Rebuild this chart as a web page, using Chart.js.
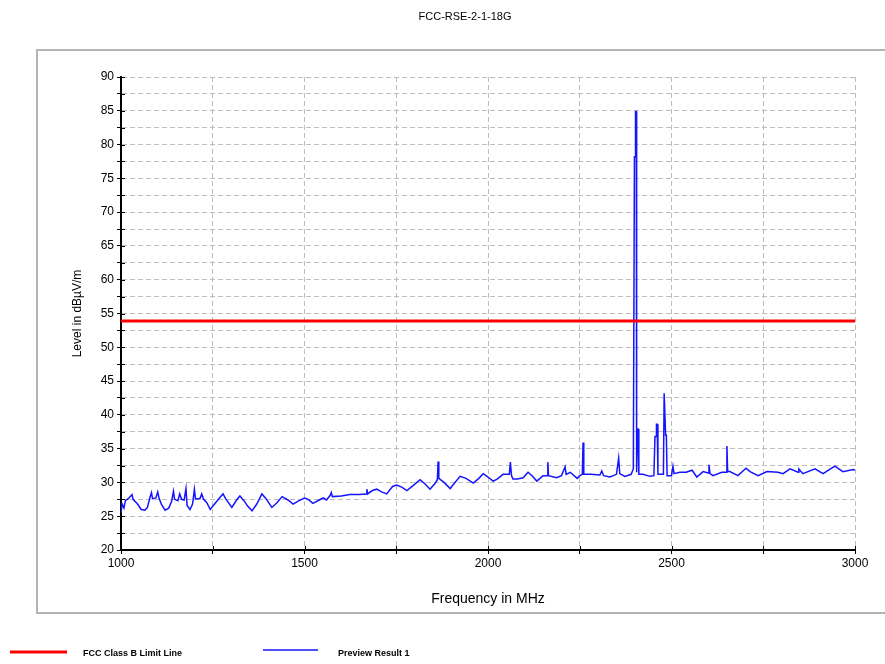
<!DOCTYPE html>
<html>
<head>
<meta charset="utf-8">
<script src="https://cdn.jsdelivr.net/npm/chart.js@4"></script>
<style>
  body { margin: 0; background: #fff; }
  #wrap { width: 885px; height: 664px; position: relative; }
</style>
</head>
<body>
<div id="wrap"><canvas id="Chart_1"></canvas></div>
<script>
let freq = [1000,1003,1008,1012,1020,1030,1033,1045,1055,1065,1072,1079,1083,1086,1095,1100,1104,1110,1120,1130,
  1138,1143,1146,1155,1160,1165,1172,1177,1180,1188,1195,1200,1203,1215,1220,1225,1234,1243,1255,1270,
  1278,1285,1302,1315,1324,1335,1345,1357,1370,1384,1395,1411,1425,1439,1455,1469,1485,1500,1510,1523,
  1540,1551,1560,1570,1573,1576,1600,1624,1650,1668,1670,1672,1685,1697,1710,1724,1740,1751,1765,1779,
  1795,1815,1828,1842,1855,1862,1864,1866,1880,1897,1910,1924,1940,1960,1975,1987,2000,2014,2025,2041,
  2058,2061,2064,2068,2080,2096,2109,2120,2133,2150,2161,2163,2165,2187,2200,2210,2213,2224,2243,2250,
  2257,2259,2261,2280,2305,2310,2315,2332,2350,2356,2359,2373,2390,2396,2399,2401,2402,2404,2405,2407,
  2409,2411,2422,2441,2452,2455,2458,2459,2461,2463,2478,2480,2482,2484,2486,2488,2500,2504,2507,2523,
  2540,2556,2569,2586,2600,2602,2605,2613,2637,2649,2651,2653,2659,2681,2703,2714,2736,2760,2790,2804,
  2823,2845,2847,2858,2891,2913,2945,2967,2995,3000];
let level = [25.5,26.8,26.2,27.3,27.6,28.2,27.5,26.8,26.0,25.9,26.3,27.8,28.5,27.6,27.7,28.6,27.6,26.8,25.9,26.2,
  27.2,28.7,27.5,27.3,28.3,27.5,27.4,29.1,26.6,26.0,26.8,29.0,27.6,27.6,28.3,27.5,27.0,26.0,26.8,27.8,
  28.3,27.6,26.3,27.4,28.0,27.3,26.5,25.8,26.8,28.3,27.6,26.3,27.0,27.9,27.4,26.8,27.3,27.7,27.5,26.9,
  27.4,27.7,27.4,28.1,28.5,27.9,28.0,28.2,28.2,28.3,29.0,28.3,28.8,29.0,28.6,28.3,29.4,29.6,29.3,28.8,
  29.5,30.4,29.8,29.0,29.8,30.4,33.1,30.6,30.0,29.1,30.0,30.9,30.6,29.9,30.6,31.3,30.8,30.2,30.5,31.2,
  31.2,33.0,31.0,30.5,30.5,30.7,31.5,31.0,30.2,31.0,31.0,33.0,31.0,30.7,31.0,32.3,31.2,31.5,30.6,31.0,
  31.2,35.9,31.2,31.2,31.1,31.7,31.0,30.8,31.2,33.6,31.3,30.9,31.2,32.0,78.2,78.2,84.9,84.9,31.5,37.9,
  37.9,31.2,31.2,30.9,31.0,36.8,36.8,38.6,38.6,31.2,31.2,43.2,43.2,37.0,37.0,31.0,31.0,32.4,31.3,31.5,
  31.5,31.8,30.8,31.6,31.4,32.6,31.3,31.0,31.5,31.5,35.4,31.6,31.6,31.0,32.1,31.6,31.0,31.6,31.5,31.3,
  32.0,31.5,32.0,31.3,32.0,31.3,32.4,31.6,31.9,31.8];
let limitFreq = [1000, 3000];
let limitLevel = [53.9, 53.9];

let chartTitle = 'FCC-RSE-2-1-18G';
let limitLabel = 'FCC Class B Limit Line';
let traceLabel = 'Preview Result 1';

Chart.defaults.font.family = '"Liberation Sans", Arial, sans-serif';
Chart.defaults.font.size = 12;
Chart.defaults.color = '#000';

// panel frame, title and legend drawn around the plot
let framePlugin = {
  id: 'frame',
  beforeDraw(chart) {
    let c = chart.ctx;
    c.save();
    c.fillStyle = '#fff';
    c.fillRect(0, 0, chart.width, chart.height);
    c.strokeStyle = '#b4b4b4';
    c.lineWidth = 2;
    c.strokeRect(37, 50, 860, 563);
    c.restore();
  },
  afterDraw(chart) {
    let c = chart.ctx;
    c.save();
    c.fillStyle = '#000';
    c.font = '11px "Liberation Sans", Arial, sans-serif';
    c.textAlign = 'center';
    c.textBaseline = 'middle';
    c.fillText(chartTitle, 465, 17);

    let ds = chart.data.datasets;
    c.textAlign = 'left';
    c.font = 'bold 9px "Liberation Sans", Arial, sans-serif';
    c.lineWidth = 3;
    c.strokeStyle = ds[0].borderColor;
    c.beginPath(); c.moveTo(10, 652); c.lineTo(67, 652); c.stroke();
    c.fillText(ds[0].label, 83, 654);
    c.lineWidth = 1.5;
    c.strokeStyle = ds[1].borderColor;
    c.beginPath(); c.moveTo(263, 650); c.lineTo(318, 650); c.stroke();
    c.fillText(ds[1].label, 338, 654);
    c.restore();
  },
  afterDatasetsDraw(chart) {
    // inner halves of the tick marks (they cross the axis line)
    let c = chart.ctx, a = chart.chartArea;
    c.save();
    c.strokeStyle = '#000';
    c.lineWidth = 1;
    c.beginPath();
    chart.scales.y.ticks.forEach(t => {
      let py = Math.round(chart.scales.y.getPixelForValue(t.value)) + 0.5;
      c.moveTo(a.left, py); c.lineTo(a.left + 4, py);
    });
    chart.scales.x.ticks.forEach(t => {
      let px = Math.round(chart.scales.x.getPixelForValue(t.value)) + 0.5;
      c.moveTo(px, a.bottom); c.lineTo(px, a.bottom - 4);
    });
    c.stroke();
    c.restore();
  }
};

let cxt = document.getElementById('Chart_1');
let grafico = new Chart(cxt, {
  type: 'line',
  data: {
    datasets: [
      {
        label: limitLabel,
        data: limitFreq.map((f, i) => ({x: f, y: limitLevel[i]})),
        borderColor: '#ff0000',
        borderWidth: 3,
        pointRadius: 0
      },
      {
        label: traceLabel,
        data: freq.map((f, i) => ({x: f, y: level[i]})),
        borderColor: '#1414ff',
        borderWidth: 1.5,
        pointRadius: 0,
        tension: 0
      }
    ]
  },
  options: {
    responsive: true,
    maintainAspectRatio: false,
    animation: false,
    layout: {padding: {left: 36, right: 30, top: 77, bottom: 54}},
    plugins: {legend: {display: false}, title: {display: false}, tooltip: {enabled: false}},
    scales: {
      x: {
        type: 'linear',
        min: 1000, max: 3000,
        afterFit(s) { s.height = 60; },
        ticks: {
          stepSize: 250, autoSkip: false, maxRotation: 0, padding: 2,
          callback: v => (v % 500 === 0 ? v : '')
        },
        grid: {color: '#bdbdbd', tickColor: '#000', tickLength: 4},
        border: {color: '#000', width: 2, dash: [5, 3]},
        title: {display: true, text: 'Frequency in MHz', font: {size: 14}, padding: {top: 4, bottom: 2}}
      },
      y: {
        min: 20, max: 90,
        afterFit(s) { s.width = 85; },
        ticks: {
          stepSize: 2.5, autoSkip: false, padding: 3,
          callback: v => (v % 5 === 0 ? v : '')
        },
        grid: {color: '#bdbdbd', tickColor: '#000', tickLength: 4},
        border: {color: '#000', width: 2, dash: [5, 3]},
        title: {display: true, text: 'Level in dBµV/m', font: {size: 12}, padding: {top: 34, bottom: 0}}
      }
    }
  },
  plugins: [framePlugin]
});
</script>
</body>
</html>
